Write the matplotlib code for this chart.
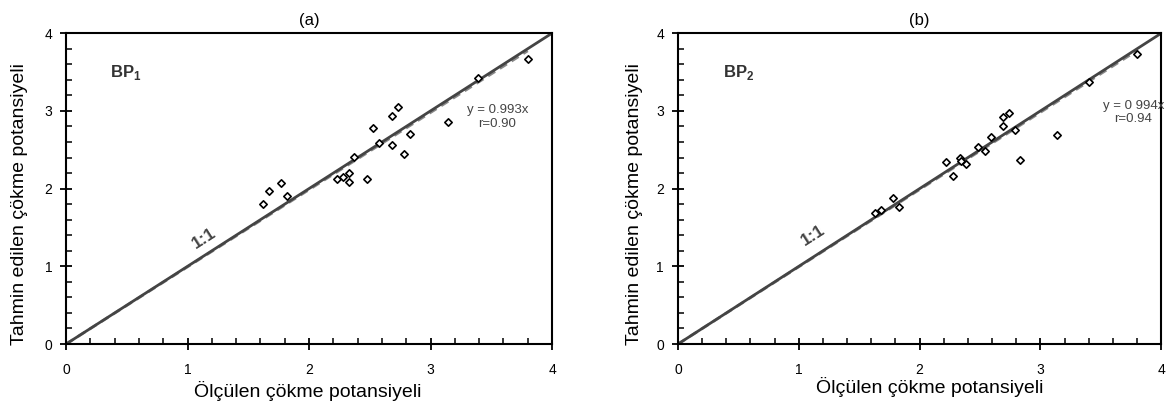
import matplotlib
matplotlib.use("Agg")
import matplotlib.pyplot as plt
from matplotlib.ticker import MultipleLocator
import numpy as np

plt.rcParams['font.family'] = ['Liberation Sans', 'DejaVu Sans']

# Panel (a) BP1
meas_a = [1.62, 1.67, 1.77, 1.82, 2.23, 2.28, 2.33, 2.33, 2.37, 2.48,
          2.53, 2.58, 2.68, 2.73, 2.68, 2.78, 2.83, 3.14, 3.39, 3.80]
pred_a = [1.80, 1.97, 2.07, 1.90, 2.12, 2.15, 2.20, 2.08, 2.41, 2.12,
          2.78, 2.59, 2.94, 3.05, 2.56, 2.45, 2.70, 2.86, 3.42, 3.67]
slope_a = 0.993
r_a = 0.90

# Panel (b) BP2
meas_b = [1.63, 1.68, 1.78, 1.83, 2.22, 2.28, 2.33, 2.34, 2.38, 2.48,
          2.54, 2.59, 2.69, 2.69, 2.74, 2.79, 2.83, 3.14, 3.40, 3.80]
pred_b = [1.68, 1.72, 1.88, 1.76, 2.34, 2.16, 2.39, 2.35, 2.32, 2.54,
          2.48, 2.66, 2.81, 2.92, 2.97, 2.75, 2.37, 2.69, 3.37, 3.73]
slope_b = 0.994
r_b = 0.94

titles = ["(a)", "(b)"]
labels = ["BP$_{\\mathregular{1}}$", "BP$_{\\mathregular{2}}$"]
eq_texts = ["y = 0.993x\nr=0.90", "y = 0 994x\nr=0.94"]
xlabel = "Ölçülen çökme potansiyeli"
ylabel = "Tahmin edilen çökme potansiyeli"

fig = plt.figure(figsize=(11.73, 4.15), dpi=100)
ax_a = fig.add_axes([0.0563, 0.171, 0.4143, 0.749])
ax_b = fig.add_axes([0.578, 0.171, 0.412, 0.749])

panels = [
    (ax_a, meas_a, pred_a, slope_a, (3.55, 2.92), (1.14, 1.36), (0.36, 3.5), 3.80,
     (0.497, -0.119), (-0.078, 0.45)),
    (ax_b, meas_b, pred_b, slope_b, (3.77, 2.98), (1.12, 1.40), (0.37, 3.5), 3.80,
     (0.52, -0.106), (-0.072, 0.45)),
]

for i, (ax, xm, yp, slope, eqpos, onepos, bppos, xend, xlc, ylc) in enumerate(panels):
    ax.plot([0, 4], [0, 4], color='#444444', lw=2.0, zorder=2)
    xr = np.array([0, xend])
    ax.plot(xr, slope * xr, color='#888888', lw=2.0, ls=(0, (3, 2)), zorder=1)
    ax.scatter(xm, yp, marker='D', s=14, facecolors='white', edgecolors='black',
               linewidths=1.2, zorder=3)
    ax.set_xlim(0, 4)
    ax.set_ylim(0, 4)
    ax.xaxis.set_major_locator(MultipleLocator(1))
    ax.yaxis.set_major_locator(MultipleLocator(1))
    ax.xaxis.set_minor_locator(MultipleLocator(0.2))
    ax.yaxis.set_minor_locator(MultipleLocator(0.2))
    ax.tick_params(axis='x', which='major', direction='inout', length=8, width=1.3,
                   labelsize=10, pad=10)
    ax.tick_params(axis='y', which='major', direction='inout', length=8, width=1.3,
                   labelsize=10, pad=6)
    ax.tick_params(which='minor', direction='in', length=4, width=1.1)
    for sp in ax.spines.values():
        sp.set_linewidth(1.5)
    ax.set_title(titles[i], fontsize=12, pad=6)
    ax.set_xlabel(xlabel, fontsize=14)
    ax.set_ylabel(ylabel, fontsize=14)
    ax.xaxis.set_label_coords(*xlc)
    ax.yaxis.set_label_coords(*ylc)
    ax.text(bppos[0], bppos[1], labels[i], fontsize=12, fontweight='bold',
            color='#333333', ha='left', va='center')
    ax.text(eqpos[0], eqpos[1], eq_texts[i], fontsize=9.5, color='#444444',
            ha='center', va='center', linespacing=1.2)
    ax.text(onepos[0], onepos[1], "1:1", fontsize=12.5, fontweight='bold',
            color='#444444', ha='center', va='center', rotation=32.6,
            rotation_mode='anchor')

fig.savefig("out.png", dpi=100)
